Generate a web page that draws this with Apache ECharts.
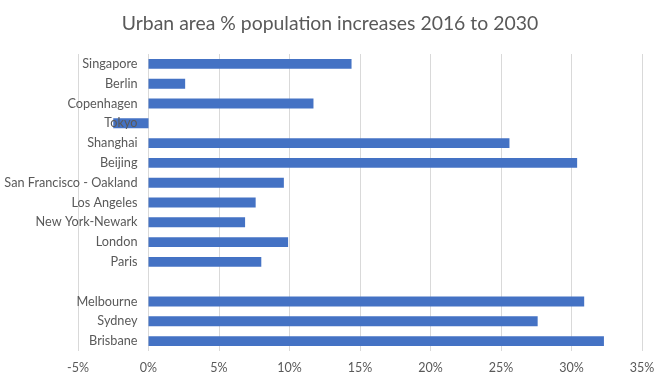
<!DOCTYPE html>
<html><head><meta charset="utf-8">
<script src="https://cdn.jsdelivr.net/npm/echarts@6/dist/echarts.min.js"></script>
<style>html,body{margin:0;padding:0;background:#fff}#c{width:660px;height:382px}</style>
</head><body><div id="c"></div>
<script>
const categories = ['Singapore','Berlin','Copenhagen','Tokyo','Shanghai','Beijing','San Francisco - Oakland','Los Angeles','New York-Newark','London','Paris','','Melbourne','Sydney','Brisbane'];
const values = [14.4, 2.6, 11.7, -2.5, 25.6, 30.4, 9.6, 7.6, 6.85, 9.9, 8.0, null, 30.9, 27.6, 32.3];
const xTicks = {min: -5, max: 35, interval: 5};
const titleText = 'Urban area % population increases 2016 to 2030';

const chart = echarts.init(document.getElementById('c'));
chart.setOption({
  animation: false,
  textStyle: {fontFamily: 'Lato, "Open Sans", sans-serif'},
  title: {text: titleText, left: 'center', top: 9,
    textStyle: {fontSize: 19.4, fontWeight: 'normal', color: '#595959', fontFamily: 'Lato, "Open Sans", sans-serif'}},
  grid: {left: 78, right: 18, top: 54, bottom: 31, containLabel: false, outerBoundsMode: 'none'},
  xAxis: {type: 'value', min: xTicks.min, max: xTicks.max, interval: xTicks.interval,
    axisLine: {show: false}, axisTick: {show: false},
    axisLabel: {formatter: v => v + '%', color: '#595959', fontSize: 12.5, margin: 10},
    splitLine: {show: true, lineStyle: {color: '#d9d9d9', width: 1}}},
  yAxis: {type: 'category', data: categories, inverse: true, z: 5,
    axisLine: {show: false}, axisTick: {show: false}, splitLine: {show: false},
    axisLabel: {color: '#595959', fontSize: 12.7, margin: -59.5, interval: 0}},
  series: [{type: 'bar', data: values, barWidth: '50%', itemStyle: {color: '#4472C4'}}]
});
</script></body></html>
